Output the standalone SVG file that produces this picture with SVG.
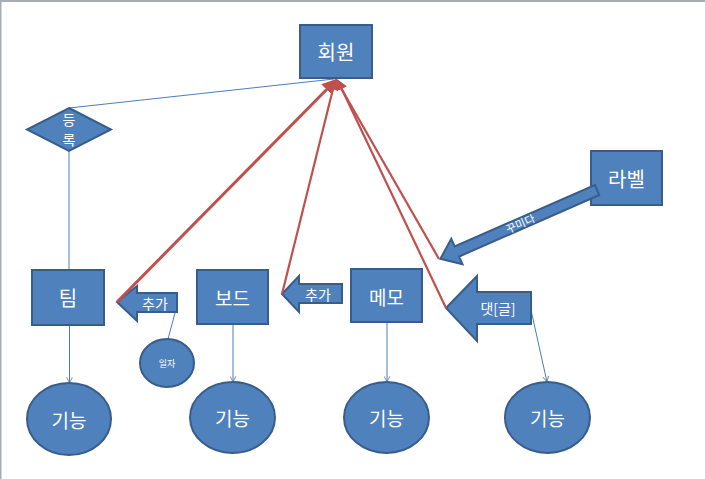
<svg xmlns="http://www.w3.org/2000/svg" width="705" height="479" viewBox="0 0 705 479">
<defs>
<style>
.shape{fill:#4f81bd;stroke:#385d8a;stroke-width:2}
.t{font-family:"Noto Sans CJK KR","Noto Sans",sans-serif;fill:#ffffff;text-anchor:middle;dominant-baseline:central}
.blue{stroke:#4a7ebb;stroke-width:1;fill:none}
.red{stroke:#c0504d;fill:none}
</style>
<marker id="ob" viewBox="0 0 10 10" refX="9" refY="5" markerWidth="7" markerHeight="7" markerUnits="userSpaceOnUse" orient="auto"><path d="M1,1 L9,5 L1,9" fill="none" stroke="#4a7ebb" stroke-width="1.2"/></marker>
<marker id="rh" viewBox="0 0 10 10" refX="8" refY="5" markerWidth="5" markerHeight="5" orient="auto"><path d="M0,0 L10,5 L0,10 Z" fill="#c0504d"/></marker>
</defs>
<rect x="0" y="0" width="705" height="479" fill="#ffffff"/>
<rect x="0" y="0" width="705" height="2" fill="#a8adb3"/>
<rect x="0" y="0" width="1.5" height="479" fill="#a8adb3"/>

<g id="connectors">
<line class="blue" x1="69" y1="108" x2="334" y2="79"/>
<line class="blue" x1="69" y1="151" x2="69" y2="270"/>
<line class="blue" x1="69.5" y1="325" x2="69.5" y2="383" marker-end="url(#ob)"/>
<line class="blue" x1="233" y1="324" x2="233" y2="382" marker-end="url(#ob)"/>
<line class="blue" x1="387" y1="322" x2="387" y2="382" marker-end="url(#ob)"/>
<line class="blue" x1="531" y1="310" x2="547" y2="382" marker-end="url(#ob)"/>
<line class="blue" x1="175" y1="313" x2="168" y2="339"/>
</g>

<g id="n-hoewon"><rect class="shape" x="300" y="25" width="72" height="53"/><text class="t" x="336" y="51" font-size="20">회원</text></g>
<g id="n-deungrok"><polygon class="shape" points="69,108 111,129.5 69,151 27,129.5" stroke-width="1.5"/><text class="t" x="69" y="119" font-size="14">등</text><text class="t" x="69" y="139" font-size="14">록</text></g>
<g id="n-team"><rect class="shape" x="32" y="270" width="72" height="55"/><text class="t" x="68" y="297" font-size="20">팀</text></g>
<g id="n-board"><rect class="shape" x="197" y="270" width="71" height="54"/><text class="t" x="232.5" y="297" font-size="19">보드</text></g>
<g id="n-memo"><rect class="shape" x="351" y="269" width="71" height="53"/><text class="t" x="386.5" y="296" font-size="19">메모</text></g>
<g id="n-label"><rect class="shape" x="591" y="151" width="71" height="54"/><text class="t" x="626.5" y="178" font-size="20">라벨</text></g>

<g id="n-add1"><polygon class="shape" points="117,302 137,286 137,293 177,293 177,312 137,312 137,321" stroke-width="1.5"/><text class="t" x="155" y="302.5" font-size="14">추가</text></g>
<g id="n-add2"><polygon class="shape" points="282,294 299,276 299,284 342,284 342,303 299,303 299,312" stroke-width="1.5"/><text class="t" x="318" y="294" font-size="14">추가</text></g>
<g id="n-comment"><polygon class="shape" points="446,308 477,276 477,292 531,292 531,324 477,324 477,341" stroke-width="1.5"/><text class="t" x="498" y="308" font-size="14">댓[글]</text></g>
<g id="n-decorate"><polygon class="shape" transform="translate(597,190) rotate(156.3)" points="0,-5.5 153,-5.5 153,-14 171,0 153,14 153,5.5 0,5.5" stroke-width="1.5"/><text class="t" transform="translate(520,223) rotate(-23.7)" font-size="11">꾸미다</text></g>

<g id="n-ilja"><ellipse class="shape" cx="167" cy="363" rx="27" ry="24"/><text class="t" x="167" y="363" font-size="9">일자</text></g>
<g id="n-f1"><ellipse class="shape" cx="69" cy="419" rx="42" ry="36"/><text class="t" x="69" y="419" font-size="19">기능</text></g>
<g id="n-f2"><ellipse class="shape" cx="232.5" cy="417.5" rx="42.5" ry="35.5"/><text class="t" x="232.5" y="417.5" font-size="19">기능</text></g>
<g id="n-f3"><ellipse class="shape" cx="386.5" cy="417.5" rx="42.5" ry="35.5"/><text class="t" x="386.5" y="417.5" font-size="19">기능</text></g>
<g id="n-f4"><ellipse class="shape" cx="547.5" cy="417.5" rx="42.5" ry="35.5"/><text class="t" x="547.5" y="417.5" font-size="19">기능</text></g>

<g id="red-connectors">
<line class="red" x1="117" y1="302" x2="335" y2="81" stroke-width="3" marker-end="url(#rh)"/>
<line class="red" x1="282" y1="294" x2="335" y2="81" stroke-width="2.2" marker-end="url(#rh)"/>
<line class="red" x1="439" y1="259" x2="337" y2="81" stroke-width="2.2" marker-end="url(#rh)"/>
<line class="red" x1="446" y1="308" x2="338" y2="81" stroke-width="2.2" marker-end="url(#rh)"/>
</g>
</svg>
